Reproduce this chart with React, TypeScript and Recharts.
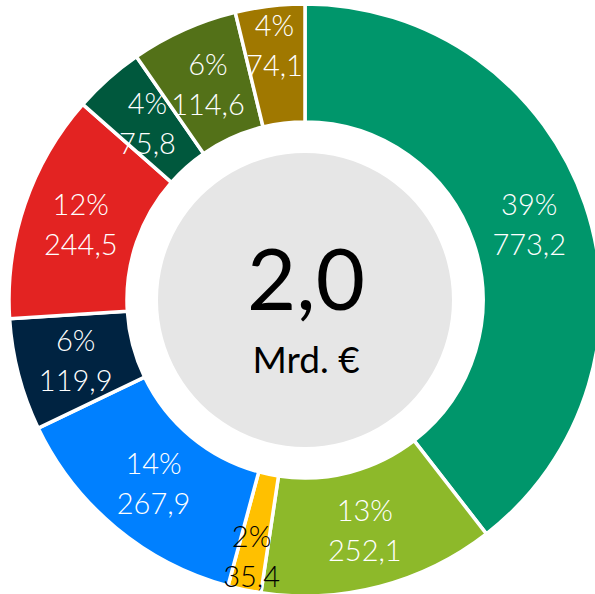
import { PieChart, Pie, Cell, Label } from "recharts";

const segmentNames = [
  "Segment 1",
  "Segment 2",
  "Segment 3",
  "Segment 4",
  "Segment 5",
  "Segment 6",
  "Segment 7",
  "Segment 8",
  "Segment 9",
];
const segmentValues = [773.2, 252.1, 35.4, 267.9, 119.9, 244.5, 75.8, 114.6, 74.1];
const totalLabel = "2,0";
const unitLabel = "Mrd. €";

const COLORS = [
  "#00966B",
  "#8DB92A",
  "#FFC000",
  "#0080FF",
  "#002341",
  "#E32322",
  "#00583D",
  "#537118",
  "#A07800",
];

// small slices in the original have their labels pushed outward a bit
const LABEL_SHIFT: Record<number, number> = { 2: 24, 8: 20 };
const LABEL_DARK: Record<number, boolean> = { 2: true };

const data = segmentNames.map((name, i) => ({ name, value: segmentValues[i] }));
const backdrop = [{ name: "total", value: 1 }];

const FONT = "Lato, 'Open Sans', sans-serif";
const RAD = Math.PI / 180;
const CX = 305;
const CY = 300;

function renderLabel(props: any) {
  const { cx, cy, midAngle, innerRadius, outerRadius, percent, value, index } = props;
  const r = (innerRadius + outerRadius) / 2 + (LABEL_SHIFT[index] ?? 0);
  const x = cx + r * Math.cos(-midAngle * RAD);
  const y = cy + r * Math.sin(-midAngle * RAD);
  const fill = LABEL_DARK[index] ? "#000000" : "#FFFFFF";
  return (
    <text
      x={x}
      y={y}
      textAnchor="middle"
      fill={fill}
      fontFamily={FONT}
      fontWeight={300}
      fontSize={29}
    >
      <tspan x={x} y={y - 20} dominantBaseline="central">
        {Math.round(percent * 100)}%
      </tspan>
      <tspan x={x} y={y + 20} dominantBaseline="central">
        {value.toFixed(1).replace(".", ",")}
      </tspan>
    </text>
  );
}

function CenterText() {
  return (
    <g>
      <text x={CX + 1} y={CY + 10} textAnchor="middle" fontFamily={FONT} fontSize={85} fill="#000">
        {totalLabel}
      </text>
      <text x={CX + 1} y={CY + 73} textAnchor="middle" fontFamily={FONT} fontSize={37} fill="#000">
        {unitLabel}
      </text>
    </g>
  );
}

export default function App() {
  return (
    <div style={{ position: "absolute", left: 0, top: 0, width: 595, height: 594, background: "#fff" }}>
      <PieChart width={595} height={594} margin={{ top: 0, right: 0, bottom: 0, left: 0 }}>
        <Pie
          data={backdrop}
          dataKey="value"
          cx={CX}
          cy={CY}
          innerRadius={0}
          outerRadius={147}
          fill="#E6E6E6"
          stroke="none"
          isAnimationActive={false}
        >
          <Label position="center" content={() => <CenterText />} />
        </Pie>
        <Pie
          data={data}
          dataKey="value"
          nameKey="name"
          cx={CX}
          cy={CY}
          innerRadius={178}
          outerRadius={296}
          startAngle={90}
          endAngle={-270}
          stroke="#FFFFFF"
          strokeWidth={3.5}
          label={renderLabel}
          labelLine={false}
          isAnimationActive={false}
        >
          {data.map((d, i) => (
            <Cell key={d.name} fill={COLORS[i]} />
          ))}
        </Pie>
      </PieChart>
    </div>
  );
}
